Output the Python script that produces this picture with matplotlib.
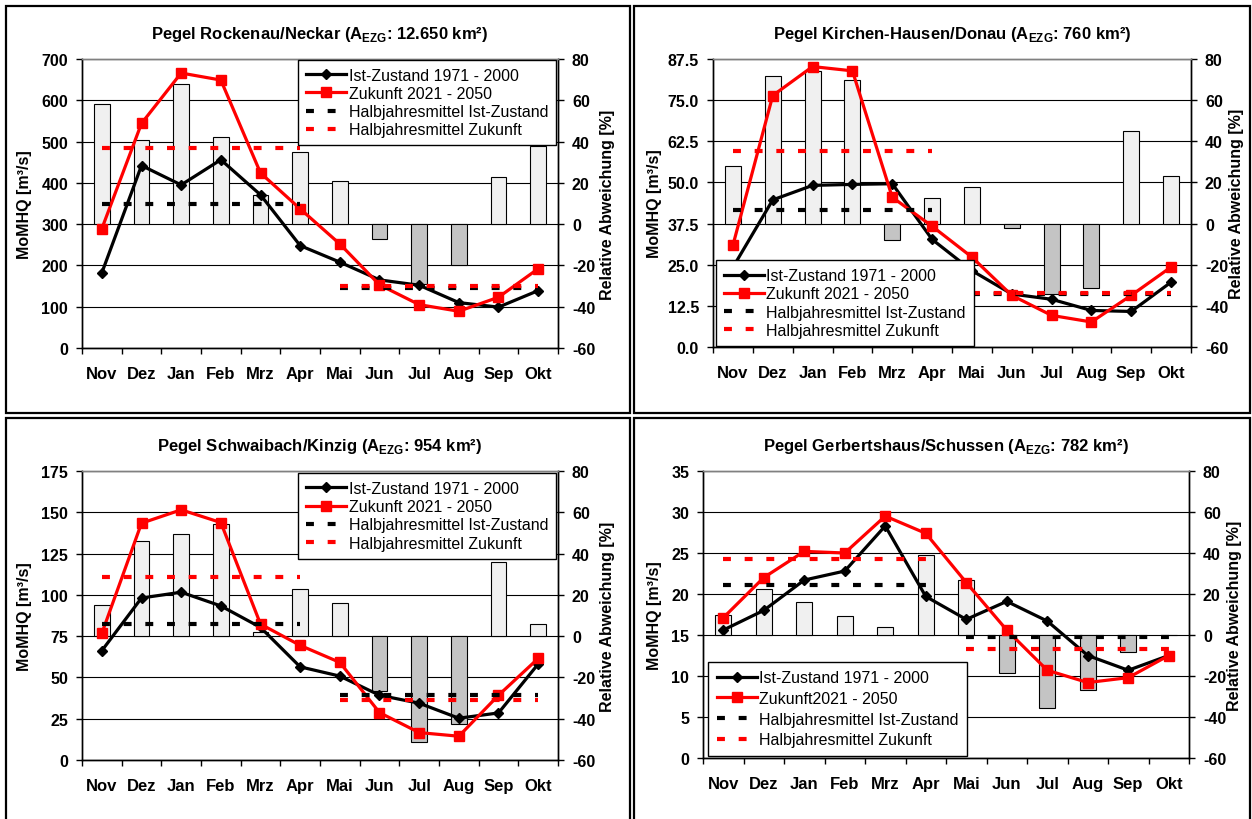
import numpy as np
import matplotlib
matplotlib.use("Agg")
import matplotlib.pyplot as plt
from matplotlib.patches import Rectangle
from matplotlib.lines import Line2D

plt.rcParams['font.family'] = ['Liberation Sans', 'DejaVu Sans']
plt.rcParams['mathtext.fontset'] = 'custom'
plt.rcParams['mathtext.rm'] = 'Liberation Sans'
plt.rcParams['mathtext.bf'] = 'Liberation Sans:bold'

months = ["Nov", "Dez", "Jan", "Feb", "Mrz", "Apr", "Mai", "Jun", "Jul", "Aug", "Sep", "Okt"]

# Panel 1: Rockenau/Neckar
p1_title = r"Pegel Rockenau/Neckar (A$_{\mathbf{EZG}}$: 12.650 km²)"
p1_ist = [182, 442, 395, 456, 371, 248, 208, 165, 152, 110, 99, 139]
p1_zuk = [289, 544, 666, 649, 424, 337, 252, 153, 105, 89, 123, 192]
p1_dev = [58, 41, 68, 42, 14, 35, 21, -7, -29, -20, 23, 38]
p1_hj_ist = [350, 145]
p1_hj_zuk = [485, 150]
p1_yticks = [0, 100, 200, 300, 400, 500, 600, 700]
p1_ylabels = ["0", "100", "200", "300", "400", "500", "600", "700"]

# Panel 2: Kirchen-Hausen/Donau
p2_title = r"Pegel Kirchen-Hausen/Donau (A$_{\mathbf{EZG}}$: 760 km²)"
p2_ist = [24.2, 44.7, 49.1, 49.4, 49.6, 32.7, 23.2, 16.1, 14.5, 11.1, 10.8, 19.7]
p2_zuk = [30.9, 76.4, 85.2, 83.9, 45.5, 36.7, 27.3, 15.7, 9.6, 7.6, 15.7, 24.3]
p2_dev = [28, 71.5, 74, 70, -8, 12.6, 18, -2, -34, -31.5, 45, 23]
p2_hj_ist = [41.5, 16.0]
p2_hj_zuk = [59.6, 16.5]
p2_yticks = [0, 12.5, 25, 37.5, 50, 62.5, 75, 87.5]
p2_ylabels = ["0.0", "12.5", "25.0", "37.5", "50.0", "62.5", "75.0", "87.5"]

# Panel 3: Schwaibach/Kinzig
p3_title = r"Pegel Schwaibach/Kinzig (A$_{\mathbf{EZG}}$: 954 km²)"
p3_ist = [66.2, 98.1, 101.6, 93.3, 80.3, 56.4, 50.8, 39.2, 34.4, 25.3, 28.5, 58.1]
p3_zuk = [76.7, 143.4, 151.5, 143.8, 82.3, 69.4, 59.1, 28.7, 16.6, 14.4, 39.2, 61.5]
p3_dev = [15, 46, 49.5, 54.5, 2, 23, 16, -26.5, -51.5, -42.5, 36, 6]
p3_hj_ist = [82.5, 39.5]
p3_hj_zuk = [111.1, 36.4]
p3_yticks = [0, 25, 50, 75, 100, 125, 150, 175]
p3_ylabels = ["0", "25", "50", "75", "100", "125", "150", "175"]

# Panel 4: Gerbertshaus/Schussen
p4_title = r"Pegel Gerbertshaus/Schussen (A$_{\mathbf{EZG}}$: 782 km²)"
p4_ist = [15.6, 18.0, 21.7, 22.8, 28.3, 19.7, 16.9, 19.1, 16.7, 12.5, 10.7, 12.5]
p4_zuk = [17.1, 22.0, 25.2, 25.0, 29.5, 27.4, 21.4, 15.6, 10.7, 9.2, 9.8, 12.5]
p4_dev = [9.6, 22.3, 16.1, 9.1, 3.9, 38.9, 26.7, -18.5, -35.4, -27, -8.5, 0]
p4_hj_ist = [21.1, 14.7]
p4_hj_zuk = [24.3, 13.3]
p4_yticks = [0, 5, 10, 15, 20, 25, 30, 35]
p4_ylabels = ["0", "5", "10", "15", "20", "25", "30", "35"]

dev_ticks = [-60, -40, -20, 0, 20, 40, 60, 80]
leg_labels_a = ["Ist-Zustand 1971 - 2000", "Zukunft 2021 - 2050",
                "Halbjahresmittel Ist-Zustand", "Halbjahresmittel Zukunft"]
leg_labels_b = ["Ist-Zustand 1971 - 2000", "Zukunft2021 - 2050",
                "Halbjahresmittel Ist-Zustand", "Halbjahresmittel Zukunft"]

W, H = 1252, 820
fig = plt.figure(figsize=(W / 100, H / 100), dpi=100)
fig.patch.set_facecolor("white")

DASH = (1.9, 3.3)


def rect(l, r, t, b):
    return [l / W, 1 - b / H, (r - l) / W, (b - t) / H]


# panel frames
for (l, r, t, b) in [(6, 630, 7, 414), (633.5, 1250, 7, 414), (6, 630, 418.5, 823), (633.5, 1250, 418.5, 823)]:
    fig.add_artist(Rectangle((l / W, 1 - b / H), (r - l) / W, (b - t) / H,
                             transform=fig.transFigure, fill=False, edgecolor="black", lw=1.6))


def panel(pos, title, ist, zuk, dev, hj_ist, hj_zuk, yticks, ylabels, leg_labels,
          leg_loc, leg_anchor, lab_x_l, lab_x_r, leg_spacing, leg_pad, leg_fs):
    ax = fig.add_axes(pos)
    ax2 = ax.twinx()
    ax.set_zorder(ax2.get_zorder() + 1)
    ax.patch.set_visible(False)
    x = np.arange(len(months))
    ymax = yticks[-1]

    # background: grid + bars on secondary axis
    ax2.set_ylim(-60, 80)
    ax2.set_yticks(dev_ticks)
    ax2.set_axisbelow(True)
    ax2.yaxis.grid(True, color="black", lw=0.8)
    dev = np.array(dev, dtype=float)
    colors = ["#f0f0f0" if v >= 0 else "#c4c4c4" for v in dev]
    ax2.bar(x, dev, width=0.4, color=colors, edgecolor="black", lw=0.8, zorder=2)

    # lines
    ax.plot(x, ist, color="black", lw=2.3, marker="D", ms=5.5, zorder=3)
    ax.plot(x, zuk, color="#ff0000", lw=2.3, marker="s", ms=7, zorder=4)
    w = x[:6]
    s = x[6:]
    for seg, val_i, val_z in [(w, hj_ist[0], hj_zuk[0]), (s, hj_ist[1], hj_zuk[1])]:
        ax.plot(seg, np.full(len(seg), val_i), color="black", lw=3, dashes=DASH,
                dash_capstyle="butt", zorder=5)
        ax.plot(seg, np.full(len(seg), val_z), color="#ff0000", lw=3, dashes=DASH,
                dash_capstyle="butt", zorder=6)

    ax.set_ylim(0, ymax)
    ax.set_xlim(-0.5, len(months) - 0.5)
    ax.set_yticks(yticks)
    ax.set_yticklabels(ylabels, fontweight="bold", fontsize=11.5)
    ax2.set_yticklabels([str(t) for t in dev_ticks], fontweight="bold", fontsize=11.5)
    ax.set_xticks(x)
    ax.set_xticklabels(months, fontweight="bold", fontsize=12)
    ax.set_xticks(np.arange(-0.5, len(months)), minor=True)
    ax.tick_params(axis="x", which="major", length=0, pad=13)
    ax.tick_params(axis="x", which="minor", length=4, width=1, direction="out")
    ax.tick_params(axis="y", length=4, width=1, direction="out", pad=6)
    ax2.tick_params(axis="y", length=4, width=1, direction="out", pad=6)
    for a in (ax, ax2):
        for sp in a.spines.values():
            sp.set_linewidth(1.0)
            sp.set_color("black")
        a.spines["top"].set_color("#808080")

    ax.set_ylabel("MoMHQ [m³/s]", fontweight="bold", fontsize=11.5)
    ax.yaxis.set_label_coords(lab_x_l, 0.5)
    ax2.set_ylabel("Relative Abweichung [%]", fontweight="bold", fontsize=11.5, rotation=90)
    ax2.yaxis.set_label_coords(lab_x_r, 0.5)
    ax.set_title(title, fontweight="bold", fontsize=12, pad=15)

    handles = [
        Line2D([], [], color="black", lw=2.3, marker="D", ms=5.5),
        Line2D([], [], color="#ff0000", lw=2.3, marker="s", ms=7),
        Line2D([], [], color="black", lw=3, dashes=DASH, dash_capstyle="butt"),
        Line2D([], [], color="#ff0000", lw=3, dashes=DASH, dash_capstyle="butt"),
    ]
    leg = ax.legend(handles, leg_labels, loc=leg_loc, bbox_to_anchor=leg_anchor,
                    fontsize=leg_fs, frameon=True, fancybox=False, shadow=False,
                    borderaxespad=0, handlelength=2.5, handletextpad=0.15,
                    labelspacing=leg_spacing, borderpad=leg_pad, framealpha=1)
    leg.get_frame().set_edgecolor("black")
    leg.get_frame().set_linewidth(1.0)
    leg.set_zorder(10)
    return ax


panel(rect(82, 558, 60, 349), p1_title, p1_ist, p1_zuk, p1_dev, p1_hj_ist, p1_hj_zuk,
      p1_yticks, p1_ylabels, leg_labels_a, "upper right", (0.996, 0.997), -0.105, 1.088, 0.2, 0.5, 11.5)
panel(rect(713, 1191, 60, 348), p2_title, p2_ist, p2_zuk, p2_dev, p2_hj_ist, p2_hj_zuk,
      p2_yticks, p2_ylabels, leg_labels_a, "lower left", (0.006, 0.004), -0.107, 1.079, 0.2, 0.5, 11.5)
panel(rect(82, 558, 472, 761), p3_title, p3_ist, p3_zuk, p3_dev, p3_hj_ist, p3_hj_zuk,
      p3_yticks, p3_ylabels, leg_labels_a, "upper right", (0.996, 0.993), -0.105, 1.088, 0.2, 0.5, 11.5)
panel(rect(703, 1189, 472, 759), p4_title, p4_ist, p4_zuk, p4_dev, p4_hj_ist, p4_hj_zuk,
      p4_yticks, p4_ylabels, leg_labels_b, "lower left", (0.01, 0.007), -0.084, 1.078, 0.35, 0.55, 11.5)

fig.savefig("out.png", dpi=100, facecolor="white")
